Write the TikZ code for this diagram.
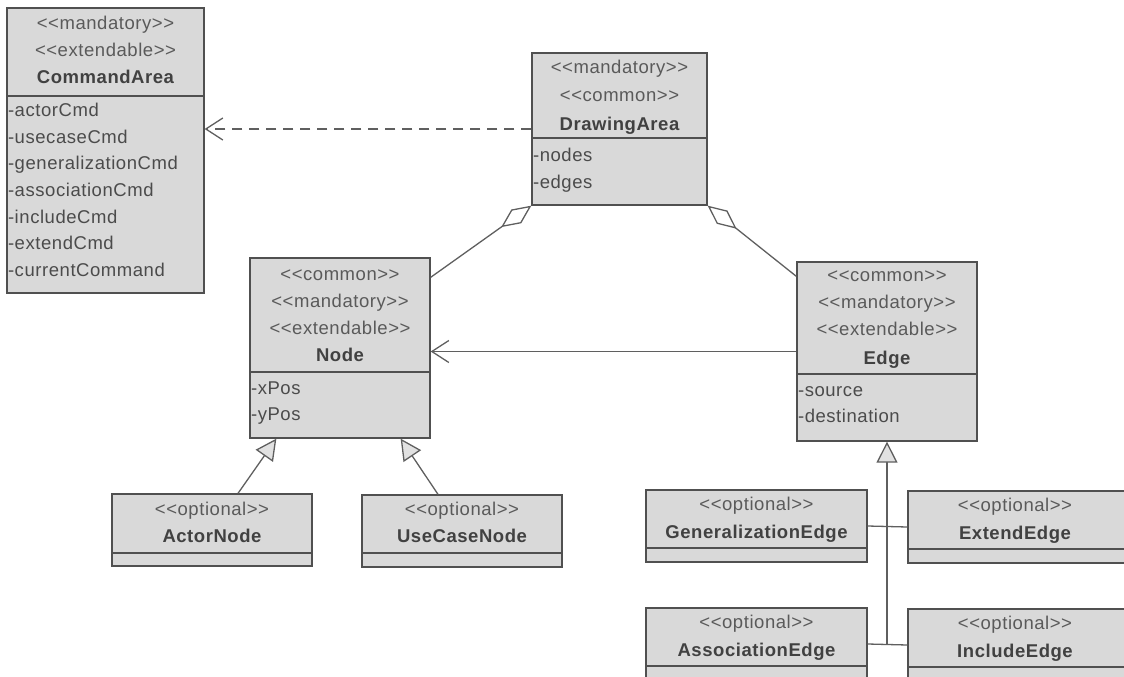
\documentclass[tikz,border=0pt]{standalone}
\usepackage{fontspec}
\setmainfont{Liberation Sans}[LetterSpace=3]
\usetikzlibrary{arrows.meta}
\definecolor{boxfill}{RGB}{217,217,217}
\definecolor{boxline}{RGB}{80,80,80}
\definecolor{linecol}{RGB}{95,95,95}
\definecolor{sttext}{RGB}{90,90,90}
\definecolor{nmtext}{RGB}{65,65,65}
\definecolor{attext}{RGB}{75,75,75}
\definecolor{trifill}{RGB}{225,225,225}
\newcommand{\stereo}[1]{<{}<#1>{}>}
\tikzset{
  cls/.style={draw=boxline, fill=boxfill, line width=1.3pt, inner sep=0pt, rectangle},
  divline/.style={draw=boxline, line width=1.3pt},
  basetxt/.style={font=\fontsize{18.5}{21}\selectfont, inner sep=0pt, text height=13.5pt, text depth=4pt},
  sttxt/.style={basetxt, text=sttext},
  nmtxt/.style={basetxt, font=\fontsize{18.5}{21}\selectfont\bfseries, text=nmtext},
  attxt/.style={basetxt, text=attext, anchor=west, xshift=1.5pt},
  conn/.style={draw=linecol, line width=1.3pt},
  openhead/.style={-{Straight Barb[length=17pt,width=22pt,line width=1.3pt]}},
  aggr/.style={-{Diamond[open,length=37pt,width=17pt,line width=1.3pt]}},
  gen/.style={-{Triangle[fill=trifill,length=21pt,width=21pt,line width=1.3pt]}}
}
\begin{document}
\begin{tikzpicture}[x=1pt,y=-1pt]
\useasboundingbox (0,0) rectangle (1124,677);
\clip (0,0) rectangle (1124,677);

% ---------- CommandArea
\node[cls, minimum width=197pt, minimum height=285pt] (CA) at (105.5,150.5) {};
\draw[divline] (CA.west |- 0,96) -- (CA.east |- 0,96);
\node[sttxt] (CAs1) at (105.5,25) {\stereo{mandatory}};
\node[sttxt] (CAs2) at (105.5,52) {\stereo{extendable}};
\node[nmtxt] (CAn) at (105.5,79) {CommandArea};
\node[attxt] (CAa1) at (CA.west |- 0,112) {-actorCmd};
\node[attxt] (CAa2) at (CA.west |- 0,138.5) {-usecaseCmd};
\node[attxt] (CAa3) at (CA.west |- 0,165) {-generalizationCmd};
\node[attxt] (CAa4) at (CA.west |- 0,192) {-associationCmd};
\node[attxt] (CAa5) at (CA.west |- 0,218.5) {-includeCmd};
\node[attxt] (CAa6) at (CA.west |- 0,245) {-extendCmd};
\node[attxt] (CAa7) at (CA.west |- 0,272) {-currentCommand};

% ---------- DrawingArea
\node[cls, minimum width=175pt, minimum height=152pt] (DA) at (619.5,129) {};
\draw[divline] (DA.west |- 0,138) -- (DA.east |- 0,138);
\node[sttxt] (DAs1) at (619.5,69) {\stereo{mandatory}};
\node[sttxt] (DAs2) at (619.5,97) {\stereo{common}};
\node[nmtxt] (DAn) at (619.5,126) {DrawingArea};
\node[attxt] (DAa1) at (DA.west |- 0,157) {-nodes};
\node[attxt] (DAa2) at (DA.west |- 0,184) {-edges};

% ---------- Node
\node[cls, minimum width=180pt, minimum height=180pt] (N) at (340,348) {};
\draw[divline] (N.west |- 0,372) -- (N.east |- 0,372);
\node[sttxt] (Ns1) at (340,276) {\stereo{common}};
\node[sttxt] (Ns2) at (340,303) {\stereo{mandatory}};
\node[sttxt] (Ns3) at (340,330) {\stereo{extendable}};
\node[nmtxt] (Nn) at (340,357) {Node};
\node[attxt] (Na1) at (N.west |- 0,390) {-xPos};
\node[attxt] (Na2) at (N.west |- 0,416) {-yPos};

% ---------- Edge
\node[cls, minimum width=180pt, minimum height=179pt] (E) at (887,351.5) {};
\draw[divline] (E.west |- 0,374) -- (E.east |- 0,374);
\node[sttxt] (Es1) at (887,277) {\stereo{common}};
\node[sttxt] (Es2) at (887,304) {\stereo{mandatory}};
\node[sttxt] (Es3) at (887,331) {\stereo{extendable}};
\node[nmtxt] (En) at (887,360) {Edge};
\node[attxt] (Ea1) at (E.west |- 0,392) {-source};
\node[attxt] (Ea2) at (E.west |- 0,418) {-destination};

% ---------- ActorNode
\node[cls, minimum width=200pt, minimum height=72pt] (AN) at (212,530) {};
\draw[divline] (AN.west |- 0,553) -- (AN.east |- 0,553);
\node[sttxt] (ANs) at (212,511) {\stereo{optional}};
\node[nmtxt] (ANn) at (212,538) {ActorNode};

% ---------- UseCaseNode
\node[cls, minimum width=200pt, minimum height=72pt] (UN) at (462,531) {};
\draw[divline] (UN.west |- 0,553) -- (UN.east |- 0,553);
\node[sttxt] (UNs) at (462,511) {\stereo{optional}};
\node[nmtxt] (UNn) at (462,538) {UseCaseNode};

% ---------- GeneralizationEdge
\node[cls, minimum width=221pt, minimum height=72pt] (GE) at (756.5,526) {};
\draw[divline] (GE.west |- 0,548) -- (GE.east |- 0,548);
\node[sttxt] (GEs) at (756.5,506) {\stereo{optional}};
\node[nmtxt] (GEn) at (756.5,534) {GeneralizationEdge};

% ---------- ExtendEdge
\node[cls, minimum width=221pt, minimum height=72pt] (EE) at (1018.5,527) {};
\draw[divline] (EE.west |- 0,549) -- (EE.east |- 0,549);
\node[sttxt] (EEs) at (1015,507) {\stereo{optional}};
\node[nmtxt] (EEn) at (1015,535) {ExtendEdge};

% ---------- AssociationEdge
\node[cls, minimum width=221pt, minimum height=72pt] (AE) at (756.5,644) {};
\draw[divline] (AE.west |- 0,666) -- (AE.east |- 0,666);
\node[sttxt] (AEs) at (756.5,624) {\stereo{optional}};
\node[nmtxt] (AEn) at (756.5,652) {AssociationEdge};

% ---------- IncludeEdge
\node[cls, minimum width=221pt, minimum height=72pt] (IE) at (1018.5,645) {};
\draw[divline] (IE.west |- 0,667) -- (IE.east |- 0,667);
\node[sttxt] (IEs) at (1015,625) {\stereo{optional}};
\node[nmtxt] (IEn) at (1015,653) {IncludeEdge};

% ---------- connectors
\draw[conn, openhead, dash pattern=on 10pt off 7pt] (DA.west) -- (CA.east |- DA.west);
\draw[conn, openhead] (E.west) -- (N.east |- E.west);
\draw[conn, aggr] ([yshift=-20pt]N.north east) -- (DA.south west);
\draw[conn, aggr] ([yshift=-15pt]E.north west) -- (DA.south east);
\draw[conn, gen] ([xshift=26pt]AN.north) -- ([xshift=27pt]N.south west);
\draw[conn, gen] ([xshift=-24pt]UN.north) -- ([xshift=-30pt]N.south east);
\coordinate (J2) at (E.south |- AE.east);
\draw[conn, gen] (J2) -- (E.south);
\draw[conn] (GE.east) -- (EE.west);
\draw[conn] (AE.east) -- (IE.west);
\end{tikzpicture}
\end{document}
